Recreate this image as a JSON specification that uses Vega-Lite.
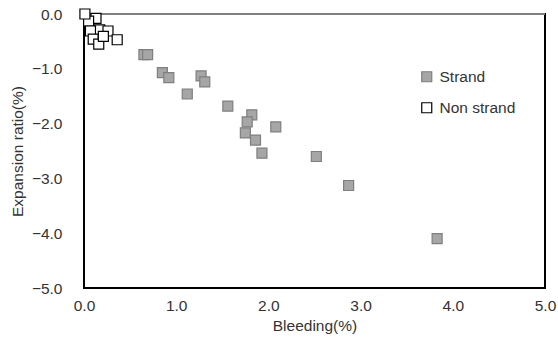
{
  "$schema": "https://vega.github.io/schema/vega-lite/v6.json",
  "width": 461,
  "height": 274,
  "autosize": "none",
  "padding": {"left": 84, "top": 14, "right": 13, "bottom": 57},
  "config": {
    "view": {"stroke": "black", "strokeWidth": 2},
    "font": "Liberation Sans",
    "axis": {"labelFont": "Liberation Sans", "titleFont": "Liberation Sans", "labelColor": "#333", "titleColor": "#333", "labelFontSize": 15.5, "titleFontSize": 15.5, "titleFontWeight": "normal", "domain": false, "ticks": false, "grid": false, "labelFlush": false},
    "legend": {"labelFont": "Liberation Sans", "labelFontSize": 15.5, "labelColor": "#333"}
  },
  "layer": [
    {
      "data": {"values": [{"y": 0}]},
      "mark": {"type": "rule", "color": "#7f7f7f", "strokeWidth": 2},
      "encoding": {"y": {"field": "y", "type": "quantitative", "scale": {"domain": [-5, 0], "nice": false}}}
    },
    {
      "data": {"values": [
        {"series": "Strand", "bleeding": 0.65, "expansion": -0.74},
        {"series": "Strand", "bleeding": 0.69, "expansion": -0.74},
        {"series": "Strand", "bleeding": 0.85, "expansion": -1.07},
        {"series": "Strand", "bleeding": 0.92, "expansion": -1.16},
        {"series": "Strand", "bleeding": 1.27, "expansion": -1.13},
        {"series": "Strand", "bleeding": 1.31, "expansion": -1.24},
        {"series": "Strand", "bleeding": 1.12, "expansion": -1.46},
        {"series": "Strand", "bleeding": 1.56, "expansion": -1.68},
        {"series": "Strand", "bleeding": 1.82, "expansion": -1.84},
        {"series": "Strand", "bleeding": 1.77, "expansion": -1.97},
        {"series": "Strand", "bleeding": 1.75, "expansion": -2.17},
        {"series": "Strand", "bleeding": 1.86, "expansion": -2.30},
        {"series": "Strand", "bleeding": 1.93, "expansion": -2.54},
        {"series": "Strand", "bleeding": 2.08, "expansion": -2.06},
        {"series": "Strand", "bleeding": 2.52, "expansion": -2.60},
        {"series": "Strand", "bleeding": 2.87, "expansion": -3.13},
        {"series": "Strand", "bleeding": 3.83, "expansion": -4.10},
        {"series": "Non strand", "bleeding": 0.17, "expansion": -0.29},
        {"series": "Non strand", "bleeding": 0.26, "expansion": -0.31},
        {"series": "Non strand", "bleeding": 0.36, "expansion": -0.47},
        {"series": "Non strand", "bleeding": 0.13, "expansion": -0.08},
        {"series": "Non strand", "bleeding": 0.05, "expansion": -0.13},
        {"series": "Non strand", "bleeding": 0.07, "expansion": -0.31},
        {"series": "Non strand", "bleeding": 0.10, "expansion": -0.46},
        {"series": "Non strand", "bleeding": 0.16, "expansion": -0.55},
        {"series": "Non strand", "bleeding": 0.21, "expansion": -0.41},
        {"series": "Non strand", "bleeding": 0.01, "expansion": 0.0}
      ]},
      "mark": {"type": "point", "shape": "square", "filled": true, "size": 100, "opacity": 1, "strokeWidth": 1.2},
      "encoding": {
        "x": {"field": "bleeding", "type": "quantitative", "scale": {"domain": [0, 5], "nice": false},
              "axis": {"values": [0, 1, 2, 3, 4, 5], "format": ".1f", "title": "Bleeding(%)", "labelPadding": 10, "titlePadding": 5}},
        "y": {"field": "expansion", "type": "quantitative", "scale": {"domain": [-5, 0], "nice": false},
              "axis": {"values": [0, -1, -2, -3, -4, -5], "format": ".1f", "title": "Expansion ratio(%)", "labelPadding": 22, "titlePadding": 6}},
        "fill": {"field": "series", "type": "nominal", "title": null,
                 "scale": {"domain": ["Strand", "Non strand"], "range": ["#a6a6a6", "#ffffff"]},
                 "legend": {"orient": "none", "legendX": 335, "legendY": 55, "symbolSize": 100, "symbolStrokeWidth": 1.2, "rowPadding": 14, "labelOffset": 5}},
        "stroke": {"field": "series", "type": "nominal", "title": null,
                   "scale": {"domain": ["Strand", "Non strand"], "range": ["#7f7f7f", "#000000"]}},
        "shape": {"value": "square"}
      }
    }
  ]
}
